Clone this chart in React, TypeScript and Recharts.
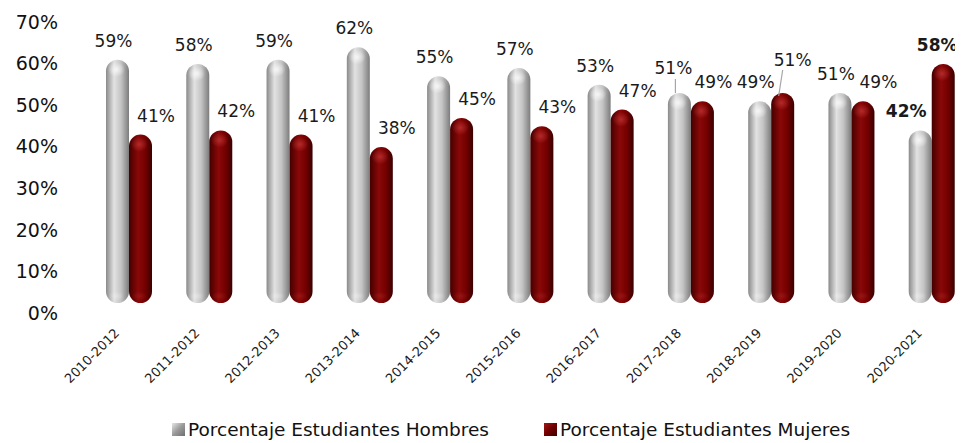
import React from 'react';
import { BarChart, Bar, XAxis, YAxis, Legend, LabelList } from 'recharts';

const categories = [
  '2010-2012', '2011-2012', '2012-2013', '2013-2014', '2014-2015', '2015-2016',
  '2016-2017', '2017-2018', '2018-2019', '2019-2020', '2020-2021',
];
const hombres = [59, 58, 59, 62, 55, 57, 53, 51, 49, 51, 42];
const mujeres = [41, 42, 41, 38, 45, 43, 47, 49, 51, 49, 58];
const yTicks = [0, 10, 20, 30, 40, 50, 60, 70];

const data = categories.map((c, i) => ({ name: c, hombres: hombres[i], mujeres: mujeres[i] }));

const FONT = '"DejaVu Sans", sans-serif';

// label placement tweaks (relative to bar centre / value), per series and index
const labelTweaks: Record<string, Record<number, { dx?: number; dy?: number; leader?: boolean; bold?: boolean }>> = {
  hombres: { 7: { dx: -6, dy: -33, leader: true }, 10: { dx: -14, bold: true } },
  mujeres: { 7: { dx: 11 }, 8: { dx: 10, dy: -41, leader: true }, 10: { dx: -6, bold: true } },
};

const Cylinder = (props: any) => {
  const { x, y, width, height, gid } = props;
  if (width == null || height == null) return null;
  const top = y - 8;
  const bottom = y + height - 10;
  const r = width / 2;
  return (
    <g>
      <rect x={x} y={top} width={width} height={bottom - top} rx={r} ry={r} fill={`url(#${gid}-body)`} />
      <ellipse cx={x + width * 0.45} cy={top + r * 0.85} rx={r * 0.75} ry={r * 0.65} fill={`url(#${gid}-cap)`} />
      <ellipse cx={x + width * 0.45} cy={bottom - r * 0.6} rx={r * 0.7} ry={r * 0.4} fill={`url(#${gid}-cap)`} opacity={0.4} />
    </g>
  );
};

const makeLabel = (series: string, baseDx: number) => (props: any) => {
  const { x, y, width, value, index } = props;
  const t = labelTweaks[series][index] || {};
  const cx = x + width / 2;
  const lx = cx + (t.dx ?? baseDx);
  const ly = y + (t.dy ?? -27);
  return (
    <g>
      {t.leader && series === 'hombres' && (
        <line x1={cx - 4} y1={ly + 11} x2={cx - 4} y2={y - 8} stroke="#a6a6a6" strokeWidth={1.2} />
      )}
      {t.leader && series === 'mujeres' && (
        <line x1={lx - 10} y1={ly + 10} x2={cx - 4} y2={y - 5} stroke="#a6a6a6" strokeWidth={1.2} />
      )}
      <text
        x={lx}
        y={ly}
        dy="0.35em"
        textAnchor="middle"
        fontFamily={FONT}
        fontSize={17}
        fontWeight={t.bold ? 'bold' : 'normal'}
        fill="#1a1a1a"
      >
        {value}%
      </text>
    </g>
  );
};

const XTick = (props: any) => {
  const { x, y, payload } = props;
  return (
    <g transform={`translate(${x - 9},${y + 21})`}>
      <text transform="rotate(-45)" textAnchor="end" fontFamily={FONT} fontSize={13} fill="#1a1a1a">
        {payload.value}
      </text>
    </g>
  );
};

const legendItems = [
  { label: 'Porcentaje Estudiantes Hombres', bg: 'linear-gradient(135deg, #e6e6e6 0%, #9a9a9a 50%, #6f6f6f 100%)' },
  { label: 'Porcentaje Estudiantes Mujeres', bg: 'linear-gradient(135deg, #a01818 0%, #700000 50%, #420000 100%)' },
];

const renderLegend = () => (
  <div style={{ display: 'flex', alignItems: 'center', fontFamily: FONT, fontSize: 18.5, color: '#111', whiteSpace: 'nowrap' }}>
    {legendItems.map((it, i) => (
      <div key={it.label} style={{ display: 'flex', alignItems: 'center', marginLeft: i === 0 ? 0 : 55 }}>
        <span style={{ display: 'inline-block', width: 13, height: 13, background: it.bg, marginRight: 3 }} />
        <span>{it.label}</span>
      </div>
    ))}
  </div>
);

export default function App() {
  return (
    <div style={{ width: 955, height: 435, overflow: 'hidden', background: '#fff' }}>
      <style>{'body{overflow:hidden;background:#fff}'}</style>
      <BarChart
        width={964}
        height={435}
        data={data}
        margin={{ top: 14, right: 0, bottom: 0, left: 0 }}
        barSize={23}
        barGap={0}
      >
        <defs>
          <linearGradient id="g-body" x1="0" y1="0" x2="1" y2="0">
            <stop offset="0%" stopColor="#8a8a8a" />
            <stop offset="35%" stopColor="#e2e2e2" />
            <stop offset="65%" stopColor="#c4c4c4" />
            <stop offset="100%" stopColor="#7c7c7c" />
          </linearGradient>
          <radialGradient id="g-cap" cx="0.5" cy="0.5" r="0.5">
            <stop offset="0%" stopColor="#ffffff" stopOpacity={0.75} />
            <stop offset="100%" stopColor="#ffffff" stopOpacity={0} />
          </radialGradient>
          <linearGradient id="r-body" x1="0" y1="0" x2="1" y2="0">
            <stop offset="0%" stopColor="#450000" />
            <stop offset="40%" stopColor="#8a0808" />
            <stop offset="70%" stopColor="#740000" />
            <stop offset="100%" stopColor="#3a0000" />
          </linearGradient>
          <radialGradient id="r-cap" cx="0.5" cy="0.5" r="0.5">
            <stop offset="0%" stopColor="#d04040" stopOpacity={0.6} />
            <stop offset="100%" stopColor="#d04040" stopOpacity={0} />
          </radialGradient>
        </defs>
        <XAxis
          dataKey="name"
          height={130}
          axisLine={false}
          tickLine={false}
          tickSize={0}
          tickMargin={0}
          interval={0}
          tick={<XTick />}
        />
        <YAxis
          width={81}
          domain={[0, 70]}
          ticks={yTicks}
          axisLine={false}
          tickLine={false}
          tickSize={0}
          tickMargin={31}
          tickFormatter={(v: number) => `${v}%`}
          tick={{ fontFamily: FONT, fontSize: 19, fill: '#111' }}
        />
        <Legend
          layout="horizontal"
          verticalAlign="middle"
          align="center"
          content={renderLegend}
          wrapperStyle={{ left: 164, top: 411, width: 'auto' }}
        />
        <Bar dataKey="hombres" name="Porcentaje Estudiantes Hombres" fill="#c0c0c0" isAnimationActive={false} shape={<Cylinder gid="g" />}>
          <LabelList dataKey="hombres" content={makeLabel('hombres', -4)} />
        </Bar>
        <Bar dataKey="mujeres" name="Porcentaje Estudiantes Mujeres" fill="#7a0000" isAnimationActive={false} shape={<Cylinder gid="r" />}>
          <LabelList dataKey="mujeres" content={makeLabel('mujeres', 15.5)} />
        </Bar>
      </BarChart>
    </div>
  );
}
